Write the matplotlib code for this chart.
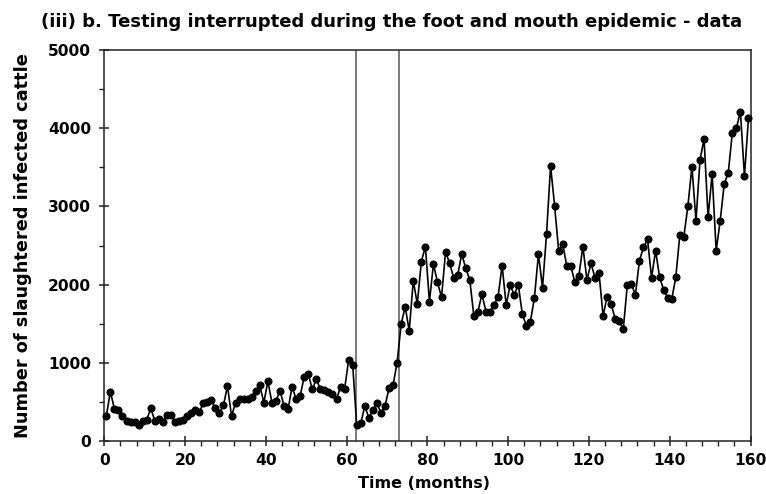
import numpy as np
import matplotlib
matplotlib.use("Agg")
import matplotlib.pyplot as plt
from matplotlib.ticker import MultipleLocator

# ---- data (monthly counts) ----
cattle = [
    320, 631, 410, 395, 315, 255, 238, 247, 205, 250,
    268, 418, 260, 277, 247, 333, 333, 247, 260, 269,
    320, 360, 396, 370, 480, 503, 520, 418, 362, 455,
    703, 320, 490, 533, 540, 533, 560, 644, 716, 490,
    767, 490, 512, 644, 448, 405, 695, 533, 576, 823,
    857, 661, 789, 665, 652, 631, 601, 533, 695, 665,
    1036, 972, 205, 226, 448, 298, 396, 482, 362, 448,
    674, 716, 1002, 1496, 1718, 1407, 2050, 1752, 2294, 2486,
    1782, 2264, 2029, 1838, 2422, 2272, 2089, 2123, 2392, 2209,
    2059, 1599, 1654, 1876, 1654, 1654, 1739, 1846, 2243, 1739,
    1995, 1867, 2000, 1624, 1475, 1526, 1833, 2392, 1961, 2648,
    3517, 3006, 2434, 2520, 2243, 2243, 2029, 2114, 2486, 2059,
    2272, 2089, 2145, 1599, 1846, 1748, 1560, 1535, 1432, 1995,
    2008, 1867, 2306, 2477, 2579, 2089, 2434, 2093, 1931, 1833,
    1812, 2093, 2635, 2613, 3006, 3508, 2818, 3594, 3863, 2861,
    3415, 2434, 2818, 3287, 3432, 3943, 3999, 4212, 3389, 4127,
]
months = np.arange(1, len(cattle) + 1) - 0.5
interruption = [62.2, 73.0]   # start / end of testing interruption (months)

title = "(iii) b. Testing interrupted during the foot and mouth epidemic - data"
xlabel = "Time (months)"
ylabel = "Number of slaughtered infected cattle"

# ---- figure ----
plt.rcParams['font.family'] = ['DejaVu Sans']
W, H = 766, 494
fig = plt.figure(figsize=(W / 100, H / 100), dpi=100)
ax = fig.add_axes([104.3 / W, 1 - 441 / H, (750.5 - 104.3) / W, (441 - 50) / H])

for xv in interruption:
    ax.axvline(xv, color='#555555', lw=1.1, zorder=1)

ax.plot(months, cattle, color='black', lw=1.2, marker='o', ms=4.8,
        mfc='black', mec='black', zorder=3, clip_on=False)

ax.set_xlim(0, 160)
ax.set_ylim(0, 5000)
ax.xaxis.set_major_locator(MultipleLocator(20))
ax.xaxis.set_minor_locator(MultipleLocator(4))
ax.yaxis.set_major_locator(MultipleLocator(1000))
ax.yaxis.set_minor_locator(MultipleLocator(500))
ax.tick_params(which='major', direction='inout', length=7, width=1.1,
               labelsize=11.2, color='#222222')
ax.tick_params(axis='x', which='major', pad=5)
ax.tick_params(axis='y', which='major', pad=6)
ax.tick_params(which='minor', direction='out', length=3.5, width=1.0,
               color='#222222')
for lab in ax.get_xticklabels() + ax.get_yticklabels():
    lab.set_fontweight('bold')
for sp in ax.spines.values():
    sp.set_linewidth(1.1)
    sp.set_color('#222222')

fig.text(424 / W, 1 - 483 / H, xlabel, fontsize=11.5, fontweight='bold',
         ha='center', va='center')
fig.text(23 / W, 1 - 246 / H, ylabel, fontsize=12.8, fontweight='bold',
         ha='center', va='center', rotation=90)
fig.text(392 / W, 1 - 22 / H, title, fontsize=13, fontweight='bold',
         ha='center', va='center')

fig.savefig("out.png", dpi=100)
